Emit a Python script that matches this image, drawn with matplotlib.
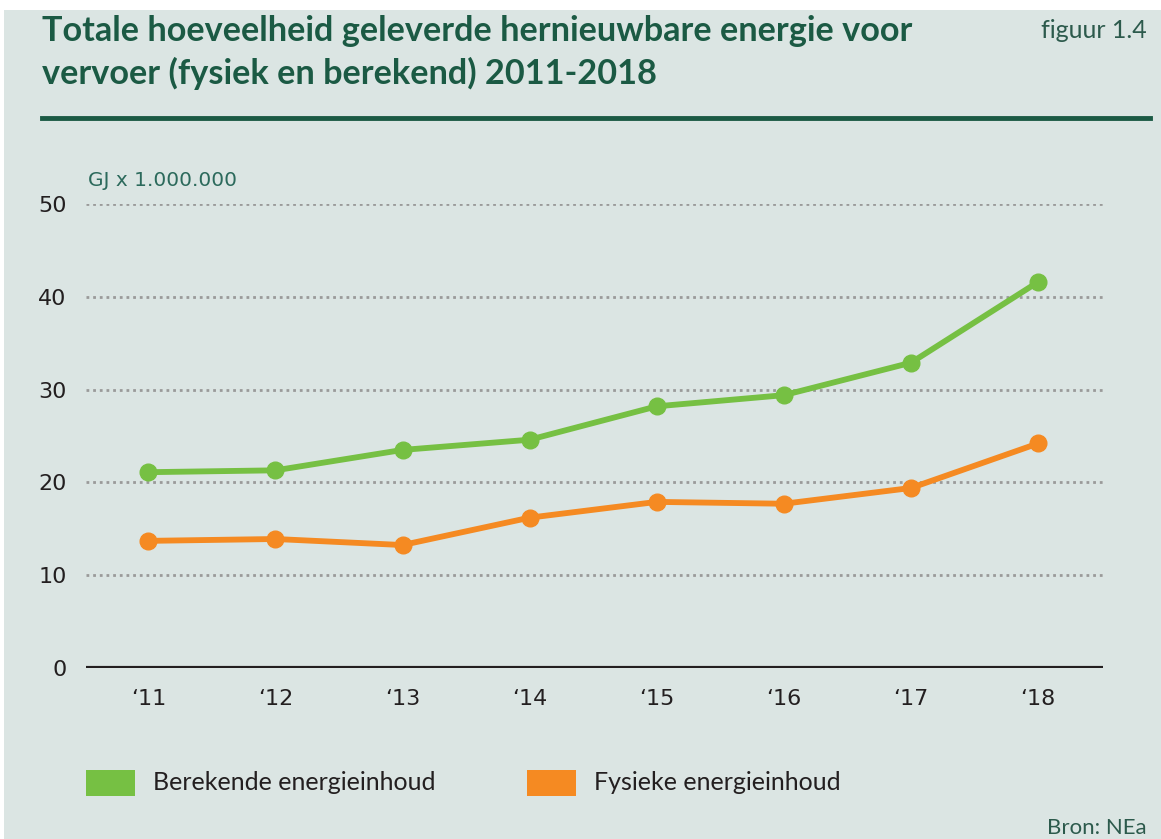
import matplotlib
matplotlib.use("Agg")
import matplotlib.pyplot as plt
from matplotlib.patches import Rectangle

# data (GJ x 1.000.000)
jaren = ["\u201811", "\u201812", "\u201813", "\u201814", "\u201815", "\u201816", "\u201817", "\u201818"]
berekend = [21.1, 21.3, 23.5, 24.6, 28.2, 29.4, 32.9, 41.6]
fysiek = [13.7, 13.9, 13.25, 16.2, 17.9, 17.7, 19.4, 24.2]
yticks = [0, 10, 20, 30, 40, 50]

groen = "#76C043"
oranje = "#F58A22"
donkergroen = "#1B5A44"
achtergrond = "#DBE5E3"
smal = ["Lato", "DejaVu Sans"]

fig = plt.figure(figsize=(11.61, 8.39), dpi=100, facecolor="white")
fig.patches.append(Rectangle((4 / 1161, 0), 1, 829 / 839, transform=fig.transFigure,
                             facecolor=achtergrond, edgecolor="none", zorder=-10))

ax = fig.add_axes([86 / 1161, 171 / 839, (1103 - 86) / 1161, (668 - 204) / 839])
ax.set_facecolor("none")
x = list(range(len(jaren)))
ax.plot(x, berekend, color=groen, lw=4.2, marker="o", ms=12, clip_on=False, zorder=3)
ax.plot(x, fysiek, color=oranje, lw=4.2, marker="o", ms=12, clip_on=False, zorder=3)

ax.set_xlim(-0.49, 7.51)
ax.set_ylim(0, 50)
for t in yticks[1:]:
    ax.axhline(t, color="#9A9A9A", lw=2, ls=(0, (1, 1.4)), zorder=1)
ax.axhline(0, color="#231F20", lw=3, zorder=2)

ax.set_xticks(x)
ax.set_xticklabels(jaren)
ax.set_yticks(yticks)
for s in ax.spines.values():
    s.set_visible(False)
ax.tick_params(length=0, labelsize=16, colors="#231F20")
ax.tick_params(axis="x", pad=15)
ax.tick_params(axis="y", pad=14)

fig.text(88 / 1161, 1 - 180 / 839, "GJ x 1.000.000",
         color="#2C6A5C", fontsize=14.5, va="center", ha="left")

# titel
fig.text(42 / 1161, 1 - 31 / 839, "Totale hoeveelheid geleverde hernieuwbare energie voor",
         family=smal, fontweight="bold", fontsize=24.7, color=donkergroen, va="center")
fig.text(42 / 1161, 1 - 73 / 839, "vervoer (fysiek en berekend) 2011-2018",
         family=smal, fontweight="bold", fontsize=24.7, color=donkergroen, va="center")
fig.text(1147 / 1161, 1 - 30 / 839, "figuur 1.4", family=smal, fontsize=18,
         color="#2C5A4C", ha="right", va="center")
fig.add_artist(plt.Line2D([42 / 1161, 1150 / 1161], [1 - 118 / 839] * 2,
                          transform=fig.transFigure, color=donkergroen, lw=3.5))

# legenda
for x0, kleur, label in [(86, groen, "Berekende energieinhoud"),
                         (527, oranje, "Fysieke energieinhoud")]:
    fig.patches.append(Rectangle((x0 / 1161, 1 - 796 / 839), 49 / 1161, 26 / 839,
                                 transform=fig.transFigure, facecolor=kleur, edgecolor="none"))
    fig.text((x0 + 67) / 1161, 1 - 782 / 839, label, family=smal, fontsize=18,
             color="#231F20", va="center", ha="left")

fig.text(1147 / 1161, 1 - 828 / 839, "Bron: NEa", family=smal, fontsize=16,
         color="#2C5A4C", ha="right", va="center")

fig.savefig("out.png", dpi=100, facecolor=fig.get_facecolor())
